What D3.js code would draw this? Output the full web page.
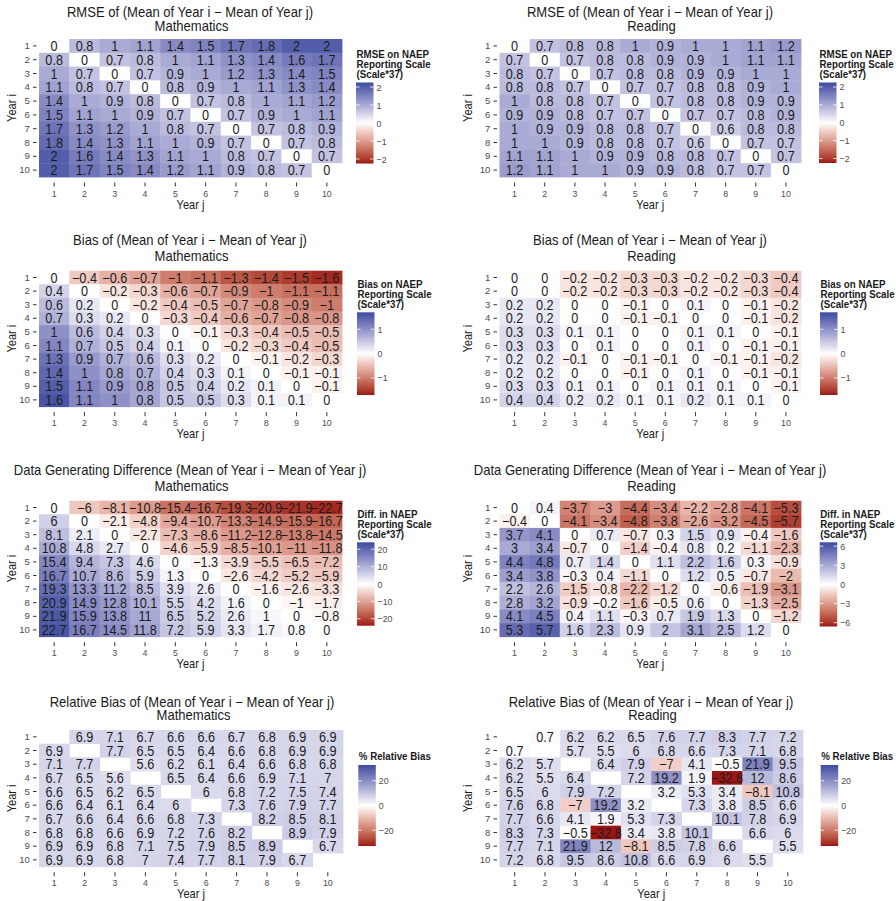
<!DOCTYPE html>
<html>
<head>
<meta charset="utf-8">
<script src="https://cdn.jsdelivr.net/npm/d3@7"></script>
<style>
  html, body { margin: 0; padding: 0; background: #ffffff; }
  svg text { font-family: "Liberation Sans", Arial, Helvetica, sans-serif; }
</style>
</head>
<body>
<svg id="chart" width="896" height="901"></svg>
<script>
// ---- Data: rows are Year i (1..10, top to bottom), columns are Year j (1..10) ----
const years = [1, 2, 3, 4, 5, 6, 7, 8, 9, 10];
const yearLabels = years.map(String);

const rmseMath = [
  [0, 0.8, 1, 1.1, 1.4, 1.5, 1.7, 1.8, 2, 2],
  [0.8, 0, 0.7, 0.8, 1, 1.1, 1.3, 1.4, 1.6, 1.7],
  [1, 0.7, 0, 0.7, 0.9, 1, 1.2, 1.3, 1.4, 1.5],
  [1.1, 0.8, 0.7, 0, 0.8, 0.9, 1, 1.1, 1.3, 1.4],
  [1.4, 1, 0.9, 0.8, 0, 0.7, 0.8, 1, 1.1, 1.2],
  [1.5, 1.1, 1, 0.9, 0.7, 0, 0.7, 0.9, 1, 1.1],
  [1.7, 1.3, 1.2, 1, 0.8, 0.7, 0, 0.7, 0.8, 0.9],
  [1.8, 1.4, 1.3, 1.1, 1, 0.9, 0.7, 0, 0.7, 0.8],
  [2, 1.6, 1.4, 1.3, 1.1, 1, 0.8, 0.7, 0, 0.7],
  [2, 1.7, 1.5, 1.4, 1.2, 1.1, 0.9, 0.8, 0.7, 0]
];

const rmseReading = [
  [0, 0.7, 0.8, 0.8, 1, 0.9, 1, 1, 1.1, 1.2],
  [0.7, 0, 0.7, 0.8, 0.8, 0.9, 0.9, 1, 1.1, 1.1],
  [0.8, 0.7, 0, 0.7, 0.8, 0.8, 0.9, 0.9, 1, 1],
  [0.8, 0.8, 0.7, 0, 0.7, 0.7, 0.8, 0.8, 0.9, 1],
  [1, 0.8, 0.8, 0.7, 0, 0.7, 0.8, 0.8, 0.9, 0.9],
  [0.9, 0.9, 0.8, 0.7, 0.7, 0, 0.7, 0.7, 0.8, 0.9],
  [1, 0.9, 0.9, 0.8, 0.8, 0.7, 0, 0.6, 0.8, 0.8],
  [1, 1, 0.9, 0.8, 0.8, 0.7, 0.6, 0, 0.7, 0.7],
  [1.1, 1.1, 1, 0.9, 0.9, 0.8, 0.8, 0.7, 0, 0.7],
  [1.2, 1.1, 1, 1, 0.9, 0.9, 0.8, 0.7, 0.7, 0]
];

const biasMath = [
  [0, -0.4, -0.6, -0.7, -1, -1.1, -1.3, -1.4, -1.5, -1.6],
  [0.4, 0, -0.2, -0.3, -0.6, -0.7, -0.9, -1, -1.1, -1.1],
  [0.6, 0.2, 0, -0.2, -0.4, -0.5, -0.7, -0.8, -0.9, -1],
  [0.7, 0.3, 0.2, 0, -0.3, -0.4, -0.6, -0.7, -0.8, -0.8],
  [1, 0.6, 0.4, 0.3, 0, -0.1, -0.3, -0.4, -0.5, -0.5],
  [1.1, 0.7, 0.5, 0.4, 0.1, 0, -0.2, -0.3, -0.4, -0.5],
  [1.3, 0.9, 0.7, 0.6, 0.3, 0.2, 0, -0.1, -0.2, -0.3],
  [1.4, 1, 0.8, 0.7, 0.4, 0.3, 0.1, 0, -0.1, -0.1],
  [1.5, 1.1, 0.9, 0.8, 0.5, 0.4, 0.2, 0.1, 0, -0.1],
  [1.6, 1.1, 1, 0.8, 0.5, 0.5, 0.3, 0.1, 0.1, 0]
];

const biasReading = [
  [0, 0, -0.2, -0.2, -0.3, -0.3, -0.2, -0.2, -0.3, -0.4],
  [0, 0, -0.2, -0.2, -0.3, -0.3, -0.2, -0.2, -0.3, -0.4],
  [0.2, 0.2, 0, 0, -0.1, 0, 0.1, 0, -0.1, -0.2],
  [0.2, 0.2, 0, 0, -0.1, -0.1, 0, 0, -0.1, -0.2],
  [0.3, 0.3, 0.1, 0.1, 0, 0, 0.1, 0.1, 0, -0.1],
  [0.3, 0.3, 0, 0.1, 0, 0, 0.1, 0, -0.1, -0.1],
  [0.2, 0.2, -0.1, 0, -0.1, -0.1, 0, -0.1, -0.1, -0.2],
  [0.2, 0.2, 0, 0, -0.1, 0, 0.1, 0, -0.1, -0.1],
  [0.3, 0.3, 0.1, 0.1, 0, 0.1, 0.1, 0.1, 0, -0.1],
  [0.4, 0.4, 0.2, 0.2, 0.1, 0.1, 0.2, 0.1, 0.1, 0]
];

const diffMath = [
  [0, -6, -8.1, -10.8, -15.4, -16.7, -19.3, -20.9, -21.9, -22.7],
  [6, 0, -2.1, -4.8, -9.4, -10.7, -13.3, -14.9, -15.9, -16.7],
  [8.1, 2.1, 0, -2.7, -7.3, -8.6, -11.2, -12.8, -13.8, -14.5],
  [10.8, 4.8, 2.7, 0, -4.6, -5.9, -8.5, -10.1, -11, -11.8],
  [15.4, 9.4, 7.3, 4.6, 0, -1.3, -3.9, -5.5, -6.5, -7.2],
  [16.7, 10.7, 8.6, 5.9, 1.3, 0, -2.6, -4.2, -5.2, -5.9],
  [19.3, 13.3, 11.2, 8.5, 3.9, 2.6, 0, -1.6, -2.6, -3.3],
  [20.9, 14.9, 12.8, 10.1, 5.5, 4.2, 1.6, 0, -1, -1.7],
  [21.9, 15.9, 13.8, 11, 6.5, 5.2, 2.6, 1, 0, -0.8],
  [22.7, 16.7, 14.5, 11.8, 7.2, 5.9, 3.3, 1.7, 0.8, 0]
];

const diffReading = [
  [0, 0.4, -3.7, -3, -4.4, -3.4, -2.2, -2.8, -4.1, -5.3],
  [-0.4, 0, -4.1, -3.4, -4.8, -3.8, -2.6, -3.2, -4.5, -5.7],
  [3.7, 4.1, 0, 0.7, -0.7, 0.3, 1.5, 0.9, -0.4, -1.6],
  [3, 3.4, -0.7, 0, -1.4, -0.4, 0.8, 0.2, -1.1, -2.3],
  [4.4, 4.8, 0.7, 1.4, 0, 1.1, 2.2, 1.6, 0.3, -0.9],
  [3.4, 3.8, -0.3, 0.4, -1.1, 0, 1.2, 0.5, -0.7, -2],
  [2.2, 2.6, -1.5, -0.8, -2.2, -1.2, 0, -0.6, -1.9, -3.1],
  [2.8, 3.2, -0.9, -0.2, -1.6, -0.5, 0.6, 0, -1.3, -2.5],
  [4.1, 4.5, 0.4, 1.1, -0.3, 0.7, 1.9, 1.3, 0, -1.2],
  [5.3, 5.7, 1.6, 2.3, 0.9, 2, 3.1, 2.5, 1.2, 0]
];

const relBiasMath = [
  [null, 6.9, 7.1, 6.7, 6.6, 6.6, 6.7, 6.8, 6.9, 6.9],
  [6.9, null, 7.7, 6.5, 6.5, 6.4, 6.6, 6.8, 6.9, 6.9],
  [7.1, 7.7, null, 5.6, 6.2, 6.1, 6.4, 6.6, 6.8, 6.8],
  [6.7, 6.5, 5.6, null, 6.5, 6.4, 6.6, 6.9, 7.1, 7],
  [6.6, 6.5, 6.2, 6.5, null, 6, 6.8, 7.2, 7.5, 7.4],
  [6.6, 6.4, 6.1, 6.4, 6, null, 7.3, 7.6, 7.9, 7.7],
  [6.7, 6.6, 6.4, 6.6, 6.8, 7.3, null, 8.2, 8.5, 8.1],
  [6.8, 6.8, 6.6, 6.9, 7.2, 7.6, 8.2, null, 8.9, 7.9],
  [6.9, 6.9, 6.8, 7.1, 7.5, 7.9, 8.5, 8.9, null, 6.7],
  [6.9, 6.9, 6.8, 7, 7.4, 7.7, 8.1, 7.9, 6.7, null]
];

const relBiasReading = [
  [null, 0.7, 6.2, 6.2, 6.5, 7.6, 7.7, 8.3, 7.7, 7.2],
  [0.7, null, 5.7, 5.5, 6, 6.8, 6.6, 7.3, 7.1, 6.8],
  [6.2, 5.7, null, 6.4, 7.9, -7, 4.1, -0.5, 21.9, 9.5],
  [6.2, 5.5, 6.4, null, 7.2, 19.2, 1.9, -32.8, 12, 8.6],
  [6.5, 6, 7.9, 7.2, null, 3.2, 5.3, 3.4, -8.1, 10.8],
  [7.6, 6.8, -7, 19.2, 3.2, null, 7.3, 3.8, 8.5, 6.6],
  [7.7, 6.6, 4.1, 1.9, 5.3, 7.3, null, 10.1, 7.8, 6.9],
  [8.3, 7.3, -0.5, -32.8, 3.4, 3.8, 10.1, null, 6.6, 6],
  [7.7, 7.1, 21.9, 12, -8.1, 8.5, 7.8, 6.6, null, 5.5],
  [7.2, 6.8, 9.5, 8.6, 10.8, 6.6, 6.9, 6, 5.5, null]
];

// Legend breaks and colour limits
const rmseTicks = [-2, -1, 0, 1, 2];
const biasTicks = [-1, 0, 1];
const diffMathTicks = [-20, -10, 0, 10, 20];
const diffReadingTicks = [-6, -3, 0, 3, 6];
const relBiasTicks = [-20, 0, 20];

const rmseLimit = 2.25;
const biasLimit = 1.7;
const diffMathLimit = 24;
const diffReadingLimit = 6.6;
const relBiasLimit = 32.8;

const titleMain = {
  rmse: "RMSE of (Mean of Year i \u2212 Mean of Year j)",
  bias: "Bias of (Mean of Year i \u2212 Mean of Year j)",
  diff: "Data Generating Difference (Mean of Year i \u2212 Mean of Year j)",
  rel: "Relative Bias of (Mean of Year i \u2212 Mean of Year j)"
};
const legendTitles = {
  rmse: ["RMSE on NAEP", "Reporting Scale", "(Scale*37)"],
  bias: ["Bias on NAEP", "Reporting Scale", "(Scale*37)"],
  diff: ["Diff. in NAEP", "Reporting Scale", "(Scale*37)"],
  rel: ["% Relative Bias"]
};

// ---- Layout of the eight panels ----
const LEFT = { x0: 39, x1: 342, titleX: 190, yTitleX: 12 };
const RIGHT = { x0: 499.5, x1: 801, titleX: 650, yTitleX: 468 };
const ROWS = [
  { y0: 39, y1: 177, t1: 12, t2: 25.5 },
  { y0: 270.7, y1: 406.7, t1: 240, t2: 255.5 },
  { y0: 500.7, y1: 636.7, t1: 470, t2: 485.5 },
  { y0: 730, y1: 866.7, t1: 701.5, t2: 715 }
];

const panels = [
  { key: "rmse", data: rmseMath, subject: "Mathematics", limit: rmseLimit, ticks: rmseTicks, col: LEFT, row: ROWS[0], bar: { x: 356, y0: 82.5, y1: 163.5 } },
  { key: "rmse", data: rmseReading, subject: "Reading", limit: rmseLimit, ticks: rmseTicks, col: RIGHT, row: ROWS[0], bar: { x: 819, y0: 82.5, y1: 163 } },
  { key: "bias", data: biasMath, subject: "Mathematics", limit: biasLimit, ticks: biasTicks, col: LEFT, row: ROWS[1], bar: { x: 357, y0: 312.3, y1: 395 } },
  { key: "bias", data: biasReading, subject: "Reading", limit: biasLimit, ticks: biasTicks, col: RIGHT, row: ROWS[1], bar: { x: 820, y0: 312.3, y1: 395 } },
  { key: "diff", data: diffMath, subject: "Mathematics", limit: diffMathLimit, ticks: diffMathTicks, col: LEFT, row: ROWS[2], bar: { x: 357, y0: 542.3, y1: 625.7 } },
  { key: "diff", data: diffReading, subject: "Reading", limit: diffReadingLimit, ticks: diffReadingTicks, col: RIGHT, row: ROWS[2], bar: { x: 819.7, y0: 542.3, y1: 626.5 } },
  { key: "rel", data: relBiasMath, subject: "Mathematics", limit: relBiasLimit, ticks: relBiasTicks, col: { ...LEFT, x1: 343, titleX: 192 }, row: ROWS[3], bar: { x: 358.3, y0: 765, y1: 846 } },
  { key: "rel", data: relBiasReading, subject: "Reading", limit: relBiasLimit, ticks: relBiasTicks, col: { ...RIGHT, x1: 803, titleX: 651 }, row: ROWS[3], bar: { x: 820.7, y0: 765, y1: 846 } }
];

// ---- Styling ----
const HIGH = "#3a4c9f";
const LOW = "#9c1616";
const MID = "#ffffff";
const SX = 0.92; // glyphs are drawn slightly condensed
const toBlue = d3.interpolateLab(MID, HIGH);
const toRed = d3.interpolateLab(MID, LOW);
function fillFor(v, limit) {
  const t = Math.max(-1, Math.min(1, v / limit));
  return t >= 0 ? toBlue(t) : toRed(-t);
}
const fmt = v => String(v).replace("-", "\u2212");
const place = (x, y) => `translate(${x},${y}) scale(${SX},1)`;

const svg = d3.select("#chart");
const defs = svg.append("defs");

function label(g, x, y, txt, size, opts = {}) {
  return g.append("text")
    .attr("transform", place(x, y))
    .attr("text-anchor", opts.anchor || "start")
    .attr("font-size", size)
    .attr("font-weight", opts.weight || "normal")
    .attr("fill", opts.fill || "#1a1a1a")
    .text(txt);
}

panels.forEach((p, idx) => {
  const g = svg.append("g").attr("class", "panel");
  const x = d3.scaleBand().domain(years).range([p.col.x0, p.col.x1]).padding(0);
  const y = d3.scaleBand().domain(years).range([p.row.y0, p.row.y1]).padding(0);

  // flatten matrix into cells
  const cells = [];
  p.data.forEach((rowVals, ri) => rowVals.forEach((v, ci) => {
    if (v !== null) cells.push({ i: years[ri], j: years[ci], v });
  }));

  g.selectAll("rect.cell").data(cells).join("rect")
    .attr("class", "cell")
    .attr("x", d => x(d.j))
    .attr("y", d => y(d.i))
    .attr("width", x.bandwidth() + 0.4)
    .attr("height", y.bandwidth() + 0.4)
    .attr("fill", d => fillFor(d.v, p.limit));

  g.selectAll("text.val").data(cells).join("text")
    .attr("class", "val")
    .attr("transform", d => place(x(d.j) + x.bandwidth() / 2, y(d.i) + y.bandwidth() / 2 + 5))
    .attr("text-anchor", "middle")
    .attr("font-size", 13.8)
    .attr("fill", "#1c1c1c")
    .text(d => fmt(d.v));

  // titles
  label(g, p.col.titleX, p.row.t1 + 5, titleMain[p.key], 14.2, { anchor: "middle" });
  label(g, p.col.titleX + 1.5, p.row.t2 + 5, p.subject, 14.2, { anchor: "middle" });

  // x axis
  const xAxis = g.append("g")
    .attr("transform", `translate(0,${p.row.y1 + 5.5})`)
    .call(d3.axisBottom(x).tickSize(4).tickPadding(3.2).tickFormat((d, k) => yearLabels[k]));
  xAxis.select(".domain").remove();
  xAxis.selectAll(".tick line").attr("stroke", "#333333");
  xAxis.selectAll(".tick text").attr("font-size", 9.6).attr("fill", "#4d4d4d")
    .attr("transform", `scale(${SX},1)`)
    .attr("font-family", "'Liberation Sans', Arial, sans-serif");

  // y axis
  const yAxis = g.append("g")
    .attr("transform", `translate(${p.col.x0 - 2.5},0)`)
    .call(d3.axisLeft(y).tickSize(3.5).tickPadding(3.2).tickFormat((d, k) => yearLabels[k]));
  yAxis.select(".domain").remove();
  yAxis.selectAll(".tick line").attr("stroke", "#333333");
  yAxis.selectAll(".tick text").attr("font-size", 9.6).attr("fill", "#4d4d4d")
    .attr("font-family", "'Liberation Sans', Arial, sans-serif");

  // axis titles
  label(g, (p.col.x0 + p.col.x1) / 2, p.row.y1 + 31.5, "Year j", 12, { anchor: "middle" });
  g.append("text")
    .attr("transform", `translate(${p.col.yTitleX + 4.3},${(p.row.y0 + p.row.y1) / 2}) rotate(-90) scale(${SX},1)`)
    .attr("text-anchor", "middle").attr("font-size", 12).attr("fill", "#1a1a1a")
    .text("Year i");

  // legend: colour bar
  const barW = 17.5;
  const gradId = "grad" + idx;
  const grad = defs.append("linearGradient").attr("id", gradId)
    .attr("x1", 0).attr("y1", 1).attr("x2", 0).attr("y2", 0);
  d3.range(0, 1.0001, 0.025).forEach(s => {
    grad.append("stop").attr("offset", s)
      .attr("stop-color", fillFor(-p.limit + 2 * p.limit * s, p.limit));
  });
  g.append("rect").attr("x", p.bar.x).attr("y", p.bar.y0)
    .attr("width", barW).attr("height", p.bar.y1 - p.bar.y0)
    .attr("fill", `url(#${gradId})`);

  const ly = d3.scaleLinear().domain([-p.limit, p.limit]).range([p.bar.y1, p.bar.y0]);
  const lt = g.append("g");
  p.ticks.forEach(t => {
    lt.append("line").attr("x1", p.bar.x).attr("x2", p.bar.x + 3.5)
      .attr("y1", ly(t)).attr("y2", ly(t)).attr("stroke", "#ffffff").attr("stroke-opacity", 0.8);
    lt.append("line").attr("x1", p.bar.x + barW - 3.5).attr("x2", p.bar.x + barW)
      .attr("y1", ly(t)).attr("y2", ly(t)).attr("stroke", "#ffffff").attr("stroke-opacity", 0.8);
    label(lt, p.bar.x + barW + 3, ly(t) + 3.5, fmt(t), 9.6, { fill: "#4d4d4d" });
  });

  const lines = legendTitles[p.key];
  const lastBase = p.bar.y0 - 4.8;
  lines.forEach((s, k) => {
    label(g, p.bar.x + 0.5, lastBase - (lines.length - 1 - k) * 10, s, 10.6, { weight: "bold" });
  });
});
</script>
</body>
</html>
